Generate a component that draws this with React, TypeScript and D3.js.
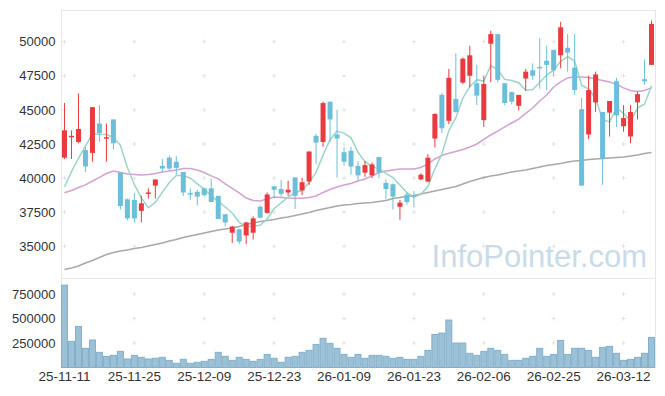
import React, { useEffect, useRef } from "react";
import * as d3 from "d3";

const dates = [
  "25-11-11", "25-11-12", "25-11-13", "25-11-14", "25-11-17", "25-11-18", "25-11-19", "25-11-20", "25-11-21", "25-11-24",
  "25-11-25", "25-11-26", "25-11-27", "25-11-28", "25-12-01", "25-12-02", "25-12-03", "25-12-04", "25-12-05", "25-12-08",
  "25-12-09", "25-12-10", "25-12-11", "25-12-12", "25-12-15", "25-12-16", "25-12-17", "25-12-18", "25-12-19", "25-12-22",
  "25-12-23", "25-12-24", "25-12-26", "25-12-29", "25-12-30", "26-01-02", "26-01-05", "26-01-06", "26-01-07", "26-01-08",
  "26-01-09", "26-01-12", "26-01-13", "26-01-14", "26-01-15", "26-01-16", "26-01-19", "26-01-20", "26-01-21", "26-01-22",
  "26-01-23", "26-01-26", "26-01-27", "26-01-28", "26-01-29", "26-01-30", "26-02-02", "26-02-03", "26-02-04", "26-02-05",
  "26-02-06", "26-02-09", "26-02-10", "26-02-11", "26-02-12", "26-02-13", "26-02-19", "26-02-20", "26-02-23", "26-02-24",
  "26-02-25", "26-02-26", "26-02-27", "26-03-03", "26-03-04", "26-03-05", "26-03-06", "26-03-09", "26-03-10", "26-03-11",
  "26-03-12", "26-03-13", "26-03-16", "26-03-17", "26-03-18"
];

const opens = [
  41500, 43000, 42650, 42050, 41850, 44000, 42900, 44300, 40400, 38450,
  38400, 37600, 38850, 39450, 40900, 41500, 41200, 40450, 38900, 39000,
  39250, 39250, 38700, 37350, 36000, 36250, 35800, 36000, 37900, 37450,
  39400, 39200, 38950, 40050, 39100, 39750, 43100, 42650, 45600, 43200,
  41900, 42000, 40900, 40400, 40200, 41550, 39650, 39550, 37900, 38800,
  38750, 39900, 39750, 42900, 46100, 44200, 45800, 47000, 47500, 46950,
  44250, 49850, 50550, 46950, 46300, 45300, 47300, 47900, 48150, 48600,
  49400, 49000, 49550, 48100, 45050, 43200, 45550, 44850, 44800, 47100,
  43800, 43050, 45550, 47250, 48300
];

const highs = [
  45500, 43500, 46200, 42300, 45200, 45350, 44000, 44300, 40400, 38500,
  38900, 38700, 39250, 39900, 41400, 41650, 41600, 40450, 39250, 39150,
  39300, 39950, 38700, 37350, 36500, 36300, 36800, 37200, 38000, 38950,
  39400, 39850, 39800, 40050, 40030, 41950, 43250, 45600, 45600, 45000,
  42250, 42300, 41250, 41250, 41150, 41550, 39900, 39600, 38400, 38950,
  39050, 40350, 41750, 44750, 46250, 48000, 49150, 48850, 49700, 48300,
  47450, 50800, 50550, 46950, 46350, 46100, 48000, 48400, 50250, 49700,
  49400, 51450, 50550, 50550, 45900, 47500, 47800, 44850, 45650, 47350,
  45350, 45350, 46350, 48700, 51550
];

const lows = [
  41400, 41400, 42550, 40450, 41200, 42650, 41200, 42100, 37700, 36900,
  36750, 36750, 38500, 38500, 40400, 40600, 40250, 38700, 38400, 38000,
  38650, 38250, 37000, 36450, 35250, 35150, 35150, 35500, 37050, 37400,
  38500, 38650, 38700, 37750, 38750, 39500, 41050, 42300, 42650, 40050,
  40900, 40250, 39800, 40100, 40000, 40000, 38450, 37700, 36950, 38050,
  37850, 39850, 39700, 42250, 43300, 43950, 44800, 46900, 46650, 45350,
  43750, 47050, 47000, 45350, 45400, 44950, 46400, 47200, 46550, 46450,
  47500, 48050, 47800, 46100, 39450, 42850, 44850, 39500, 43050, 43750,
  43400, 42550, 44300, 46850, 48300
];

const closes = [
  43500, 43100, 43600, 40850, 45200, 43300, 43000, 42550, 37950, 37050,
  37050, 38150, 38950, 39900, 40700, 40700, 40750, 38950, 38850, 38650,
  38750, 38250, 37000, 36750, 36450, 35350, 36750, 37050, 37100, 38800,
  39150, 38850, 39150, 38700, 39700, 41950, 42600, 45500, 44300, 42900,
  41200, 40850, 40200, 40950, 41000, 40400, 39200, 38650, 38200, 38250,
  38700, 40250, 41500, 44700, 43650, 47350, 44850, 48750, 49000, 46050,
  46900, 50550, 47200, 45500, 45600, 46100, 47800, 47500, 48050, 48300,
  47900, 51050, 49200, 46450, 39450, 46450, 47600, 41450, 45650, 44600,
  44400, 44850, 46150, 47100, 51300
];

// closes of the four sessions before the first visible one (for the 5-day average)
const priorCloses = [37550, 38750, 36350, 40700];

const ma20 = [
  38930, 39090, 39310, 39500, 39790, 40050, 40340, 40520, 40410, 40300,
  40270, 40230, 40270, 40340, 40450, 40520, 40600, 40710, 40710, 40600,
  40410, 40160, 39940, 39570, 39250, 38910, 38540, 38360, 38320, 38470,
  38620, 38580, 38540, 38520, 38520, 38580, 38690, 38950, 39170, 39350,
  39500, 39610, 39790, 39940, 40160, 40410, 40520, 40600, 40670, 40670,
  40670, 40780, 41040, 41400, 41660, 41820, 41950, 42100, 42280, 42500,
  42830, 43160, 43450, 43750, 44040, 44330, 44750, 45140, 45650, 46090,
  46680, 47050, 47340, 47430, 47410, 47380, 47270, 47160, 47050, 46860,
  46610, 46420, 46350, 46420, 46610
];

const maLong = [
  33300, 33410, 33560, 33780, 33960, 34180, 34400, 34550, 34660, 34730,
  34840, 34920, 35030, 35140, 35250, 35390, 35500, 35650, 35760, 35870,
  35980, 36090, 36200, 36270, 36340, 36450, 36600, 36710, 36820, 36890,
  36970, 37080, 37150, 37260, 37370, 37480, 37630, 37740, 37850, 37960,
  38030, 38070, 38140, 38180, 38210, 38290, 38360, 38510, 38580, 38650,
  38730, 38840, 38950, 39060, 39170, 39280, 39390, 39570, 39750, 39900,
  40050, 40160, 40230, 40340, 40450, 40520, 40600, 40710, 40820, 40930,
  41000, 41070, 41180, 41260, 41290, 41370, 41400, 41440, 41480, 41510,
  41550, 41620, 41700, 41800, 41880
];

const volumes = [
  842000, 267000, 420000, 196000, 281000, 155000, 114000, 124000, 165000, 87000,
  124000, 104000, 87000, 94000, 104000, 73000, 43000, 83000, 43000, 53000,
  63000, 83000, 155000, 114000, 73000, 104000, 83000, 63000, 83000, 134000,
  94000, 53000, 104000, 114000, 155000, 175000, 236000, 298000, 247000, 196000,
  134000, 104000, 134000, 94000, 124000, 124000, 114000, 94000, 104000, 83000,
  83000, 114000, 175000, 338000, 352000, 485000, 250000, 250000, 145000, 124000,
  165000, 196000, 175000, 134000, 73000, 73000, 94000, 114000, 196000, 114000,
  134000, 277000, 134000, 196000, 196000, 175000, 104000, 206000, 216000, 145000,
  73000, 83000, 104000, 145000, 308000
];

const priceTicks = [35000, 37500, 40000, 42500, 45000, 47500, 50000];
const volumeTicks = [250000, 500000, 750000];

const W = 665;
const H = 396;
const LEFT = 61.5;
const RIGHT = 655.5;
const TOP = 10.5;
const SPLIT = 278.5;
const BOTTOM = 367.5;
const FONT = "'Liberation Sans', Arial, sans-serif";
const UP = "#ea3a3f";
const DOWN = "#6bbfdb";

function App() {
  const svgRef = useRef<SVGSVGElement>(null);

  useEffect(() => {
    const svg = d3.select(svgRef.current);
    svg.selectAll("*").remove();
    const n = closes.length;

    const x = d3.scaleBand<number>().domain(d3.range(n)).range([61, 655]);
    const bw = x.bandwidth();
    const cx = (i: number) => (x(i) as number) + bw / 2;
    const y = d3.scaleLinear().domain([32680, 52320]).range([278, 10]);
    const yv = d3.scaleLinear().domain([0, 915000]).range([367.5, 278]);

    const allCloses = priorCloses.concat(closes);
    const ma5 = closes.map((_, i) => d3.mean(allCloses.slice(i, i + 5)) as number);

    // frame
    const frame = svg.append("g").attr("stroke", "#e6e6e6").attr("fill", "none");
    frame.append("rect").attr("x", LEFT).attr("y", TOP).attr("width", RIGHT - LEFT).attr("height", BOTTOM - TOP);
    frame.append("line").attr("x1", LEFT).attr("x2", RIGHT).attr("y1", SPLIT).attr("y2", SPLIT);

    // grid crosses
    const tickIdx = d3.range(0, n, 10);
    const crossPts: [number, number][] = [];
    tickIdx.forEach(i => {
      priceTicks.forEach(v => crossPts.push([cx(i), y(v)]));
      volumeTicks.forEach(v => crossPts.push([cx(i), yv(v)]));
    });
    svg.append("g")
      .selectAll("path")
      .data(crossPts)
      .join("path")
      .attr("d", d => `M${d[0] - 2},${d[1]}h4M${d[0]},${d[1] - 2}v4`)
      .attr("stroke", "#e2e2e2")
      .attr("stroke-width", 1);

    // watermark
    svg.append("text")
      .attr("x", 647)
      .attr("y", 267)
      .attr("text-anchor", "end")
      .attr("font-family", FONT)
      .attr("font-size", 31)
      .attr("fill", "#c9dbe7")
      .text("InfoPointer.com");

    // volume
    svg.append("g")
      .selectAll("rect")
      .data(volumes)
      .join("rect")
      .attr("x", (_, i) => (x(i) as number) + 0.5)
      .attr("width", bw - 1)
      .attr("y", d => yv(d))
      .attr("height", d => BOTTOM - yv(d))
      .attr("fill", "#9ac1d6")
      .attr("stroke", "#84afcb")
      .attr("stroke-width", 1);

    // moving averages
    const line = d3.line<number>().x((_, i) => cx(i)).y(d => y(d));
    const mas = svg.append("g").attr("fill", "none").attr("stroke-width", 1.5).attr("opacity", 0.85);
    mas.append("path").attr("d", line(maLong)).attr("stroke", "#999");
    mas.append("path").attr("d", line(ma20)).attr("stroke", "#cd92cb");
    mas.append("path").attr("d", line(ma5)).attr("stroke", "#8ccdc0");

    // candles
    const candles = svg.append("g")
      .selectAll("g")
      .data(d3.range(n))
      .join("g")
      .attr("fill", i => (closes[i] >= opens[i] ? UP : DOWN))
      .attr("stroke", i => (closes[i] >= opens[i] ? UP : DOWN));
    candles.append("line")
      .attr("x1", i => cx(i))
      .attr("x2", i => cx(i))
      .attr("y1", i => y(highs[i]))
      .attr("y2", i => y(lows[i]))
      .attr("stroke-width", 1);
    candles.append("rect")
      .attr("x", i => cx(i) - 2.5)
      .attr("width", 5)
      .attr("y", i => y(Math.max(opens[i], closes[i])))
      .attr("height", i => Math.max(1.5, Math.abs(y(opens[i]) - y(closes[i]))))
      .attr("stroke", "none");

    // axes
    const styleAxis = (g: any, size: number) => {
      g.select(".domain").remove();
      g.selectAll("text").attr("font-family", FONT).attr("font-size", size).attr("fill", "#333");
    };
    svg.append("g")
      .attr("transform", `translate(${LEFT},0)`)
      .call(d3.axisLeft(y).tickValues(priceTicks).tickSize(0).tickPadding(6).tickFormat(d3.format("d")))
      .call(styleAxis, 13);
    svg.append("g")
      .attr("transform", `translate(${LEFT},0)`)
      .call(d3.axisLeft(yv).tickValues(volumeTicks).tickSize(0).tickPadding(6).tickFormat(d3.format("d")))
      .call(styleAxis, 13);
    svg.append("g")
      .attr("transform", `translate(0,${BOTTOM})`)
      .call(d3.axisBottom(x).tickValues(tickIdx).tickSize(0).tickPadding(4).tickFormat(i => dates[i as number]))
      .call(styleAxis, 13.5);
  }, []);

  return (
    <svg
      ref={svgRef}
      width={W}
      height={H}
      style={{ position: "absolute", left: 0, top: 0, background: "#fff" }}
    />
  );
}

export default App;
